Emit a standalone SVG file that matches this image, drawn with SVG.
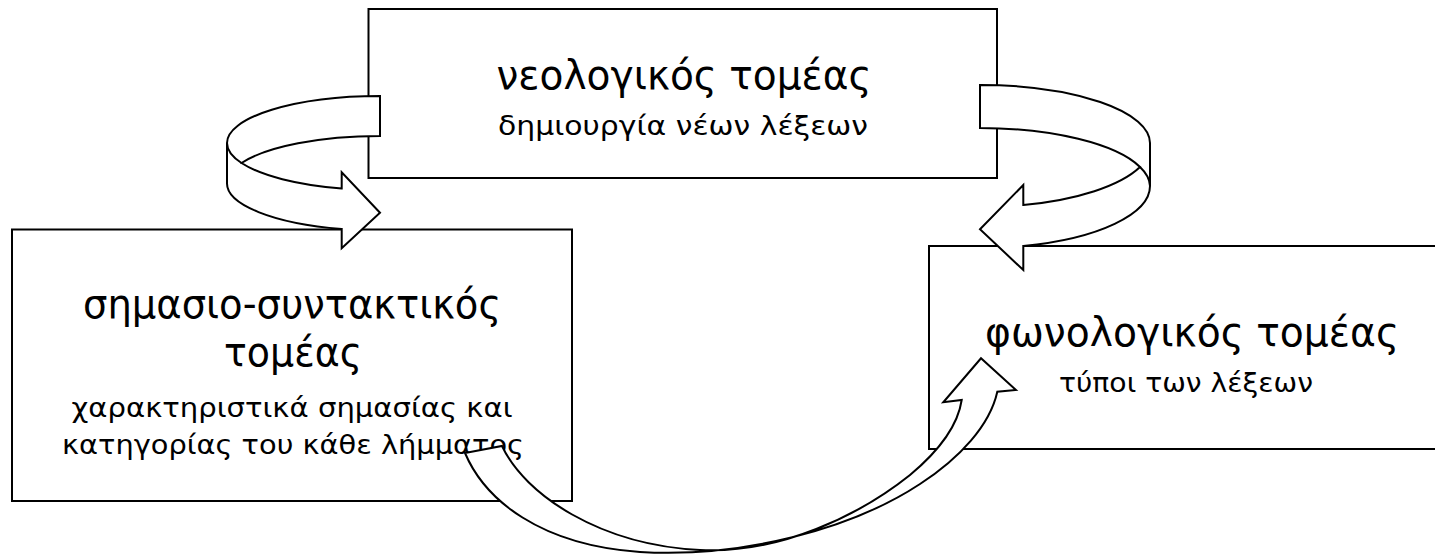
<svg xmlns="http://www.w3.org/2000/svg" width="1435" height="557" viewBox="0 0 1435 557">
<style>
.box{fill:#ffffff;stroke:#000000;stroke-width:2}
.arrow{fill:#ffffff;stroke:#000000;stroke-width:2;stroke-linejoin:miter}
.fold{fill:none;stroke:#000000;stroke-width:2}
.t{font-family:"DejaVu Sans","Open Sans","Noto Sans",sans-serif;fill:#000000;text-anchor:middle}
.big{font-size:40px}
.small{font-size:27px}
</style>
<rect width="1435" height="557" fill="#ffffff"/>
<g id="node-neologikos">
<rect class="box" x="368.5" y="9" width="628.5" height="169"/>
<text class="t big" x="684" y="89" textLength="375" lengthAdjust="spacingAndGlyphs">νεολογικός τομέας</text>
<text class="t small" x="683" y="135" textLength="370" lengthAdjust="spacingAndGlyphs">δημιουργία νέων λέξεων</text>
</g>
<g id="node-simasio">
<rect class="box" x="12" y="229.5" width="560" height="271.5"/>
<text class="t big" x="292" y="318" textLength="418" lengthAdjust="spacingAndGlyphs">σημασιο-συντακτικός</text>
<text class="t big" x="293" y="366" textLength="138" lengthAdjust="spacingAndGlyphs">τομέας</text>
<text class="t small" x="292" y="417" textLength="441" lengthAdjust="spacingAndGlyphs">χαρακτηριστικά σημασίας και</text>
<text class="t small" x="293" y="454" textLength="462" lengthAdjust="spacingAndGlyphs">κατηγορίας του κάθε λήμματος</text>
</g>
<g id="node-fonologikos">
<rect class="box" x="929" y="246" width="520" height="203"/>
<text class="t big" x="1192" y="346" textLength="414" lengthAdjust="spacingAndGlyphs">φωνολογικός τομέας</text>
<text class="t small" x="1186" y="392" textLength="254" lengthAdjust="spacingAndGlyphs">τύποι των λέξεων</text>
</g>
<g id="connectors">
<g id="arrow-left">
<path class="arrow" d="M380,96 A153,47 0 0 0 227,143 L227,183 A153,47 0 0 0 341.7,229 L341.7,248.3 L380,212.7 L341.7,172.3 L341.7,188.5 A153,47 0 0 1 241.5,163 A153,47 0 0 1 380,136 Z"/>
<path class="fold" d="M227,143 A153,47 0 0 0 241.5,163"/>
</g>
<g id="arrow-right">
<path class="arrow" d="M980,85 A170,58 0 0 1 1150,143 L1150,186 A170,62 0 0 1 1023.3,246 L1023.3,270 L980,229.3 L1023.3,185 L1023.3,205 A170,62 0 0 0 1140,167 A170,58 0 0 0 980,128 Z"/>
<path class="fold" d="M1140,167 A170,58 0 0 1 1150,186"/>
</g>
<g id="arrow-bottom">
<path class="arrow" d="M465,453 C485,500 540,545 640,552 C740,558 850,530 920,484 C960,458 990,425 997.3,391.7 L1016,390 L981,358.3 L943.3,402.3 L961.7,400 C958,425 940,450 910,475 C860,515 780,554 700,550 C600,545 525,495 502,446 Z"/>
</g>
</g>
</svg>
